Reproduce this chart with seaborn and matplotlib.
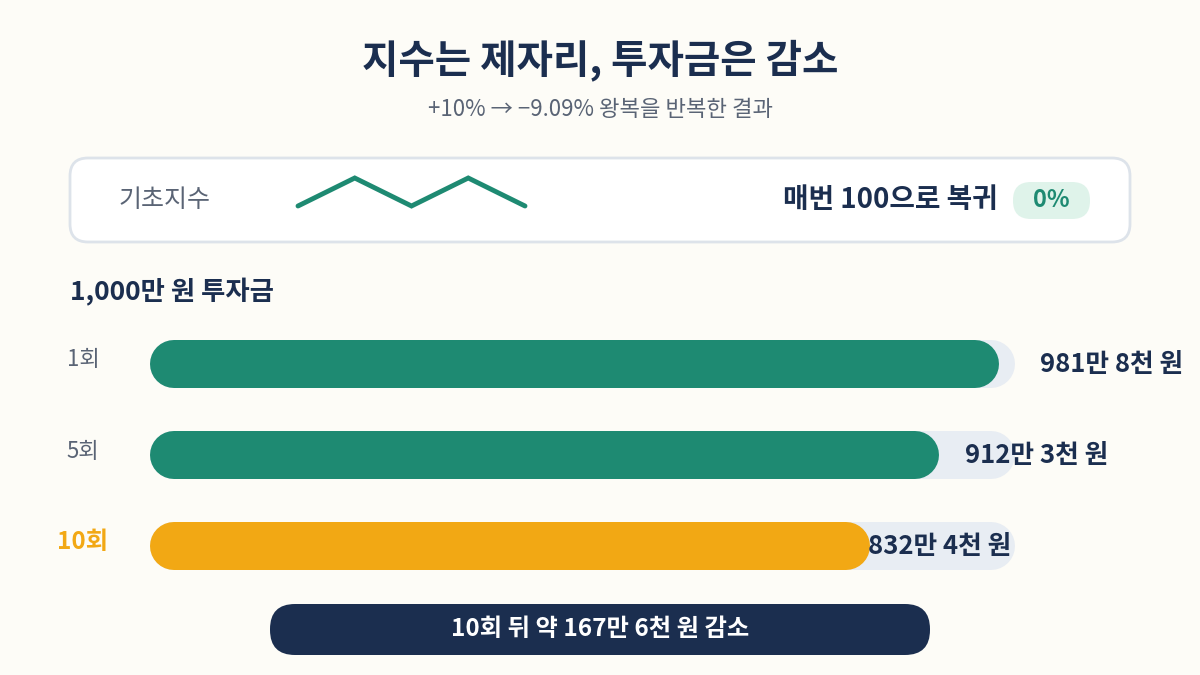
import matplotlib.pyplot as plt
import seaborn as sns
from matplotlib.patches import FancyBboxPatch

# ------------------ DATOS ------------------ #
rounds = ["1회", "5회", "10회"]
values = [981.8, 912.3, 832.4]          # 만 원
value_labels = ["981만 8천 원", "912만 3천 원", "832만 4천 원"]
start_value = 1000
index_path = [100, 110, 100, 110, 100]
title = "지수는 제자리, 투자금은 감소"
subtitle = "+10% → −9.09% 왕복을 반복한 결과"
summary = "10회 뒤 약 167만 6천 원 감소"

GREEN = "#1e8a72"
ORANGE = "#f2a814"
NAVY = "#1b2e4f"
TRACK = "#e8edf3"
BG = "#fdfcf7"
GRAY = "#5a6475"

sns.set_theme(style="white")
plt.rcParams["font.family"] = ["Noto Sans CJK KR", "DejaVu Sans"]

fig = plt.figure(figsize=(12, 6.75), dpi=100, facecolor=BG)

# capa de fondo en coordenadas de píxel
ax0 = fig.add_axes([0, 0, 1, 1])
ax0.set_xlim(0, 1200)
ax0.set_ylim(675, 0)
ax0.axis("off")

ax0.text(600, 60, title, ha="center", va="center", fontsize=28.5, fontweight="bold", color=NAVY)
ax0.text(600, 110, subtitle, ha="center", va="center", fontsize=16, color=GRAY)

panel = FancyBboxPatch((70, 158), 1060, 84, boxstyle="round,pad=0,rounding_size=18",
                       facecolor="white", edgecolor="#dde3ea", linewidth=2)
ax0.add_patch(panel)
ax0.text(118, 200, "기초지수", ha="left", va="center", fontsize=18, color=GRAY)

# zigzag del índice
xs = [298 + i * (525 - 298) / (len(index_path) - 1) for i in range(len(index_path))]
ys = [206 - (v - 100) * 2.8 for v in index_path]
ax0.plot(xs, ys, color=GREEN, linewidth=3.5, solid_joinstyle="miter")

ax0.text(998, 200, "매번 100으로 복귀", ha="right", va="center", fontsize=20,
         fontweight="bold", color=NAVY)
pill = FancyBboxPatch((1013, 182), 77, 37, boxstyle="round,pad=0,rounding_size=18",
                      facecolor="#dff3ea", edgecolor="none")
ax0.add_patch(pill)
ax0.text(1051.5, 200, "0%", ha="center", va="center", fontsize=17, fontweight="bold", color=GREEN)

ax0.text(70, 292, f"{start_value:,}만 원 투자금", ha="left", va="center", fontsize=19,
         fontweight="bold", color=NAVY)

summ = FancyBboxPatch((270, 604), 660, 51, boxstyle="round,pad=0,rounding_size=25",
                      facecolor=NAVY, edgecolor="none")
ax0.add_patch(summ)
ax0.text(600, 629.5, summary, ha="center", va="center", fontsize=17.5, fontweight="bold", color="white")

# ------------------ BARRAS ------------------ #
ax = fig.add_axes([150 / 1200, 1 - 591.5 / 675, 865 / 1200, 273 / 675])
ax.set_facecolor("none")
ax.set_xlim(0, start_value)
ax.set_ylim(len(rounds) - 0.5, -0.5)
ax.axis("off")

bar_lw = 48 * 72 / 100
cap = 24 / 865 * start_value
colors = [GREEN, GREEN, ORANGE]
label_offsets = [41, 26, -2]
for i, (v, c) in enumerate(zip(values, colors)):
    t = ax.hlines(i, cap, start_value - cap, color=TRACK, linewidth=bar_lw)
    t.set_capstyle("round")
    b = ax.hlines(i, cap, v - cap, color=c, linewidth=bar_lw)
    b.set_capstyle("round")
    ax.text(v + label_offsets[i] / 865 * start_value, i, value_labels[i], ha="left", va="center",
            fontsize=18.5, fontweight="bold", color=NAVY, clip_on=False)

for i, r in enumerate(rounds):
    last = i == len(rounds) - 1
    ax0.text(83, 360 + i * 91, r, ha="center", va="center", fontsize=17.5 if last else 16,
             fontweight="bold" if last else "normal", color=ORANGE if last else GRAY)

plt.savefig("out.png", dpi=100, facecolor=BG)
plt.close()
